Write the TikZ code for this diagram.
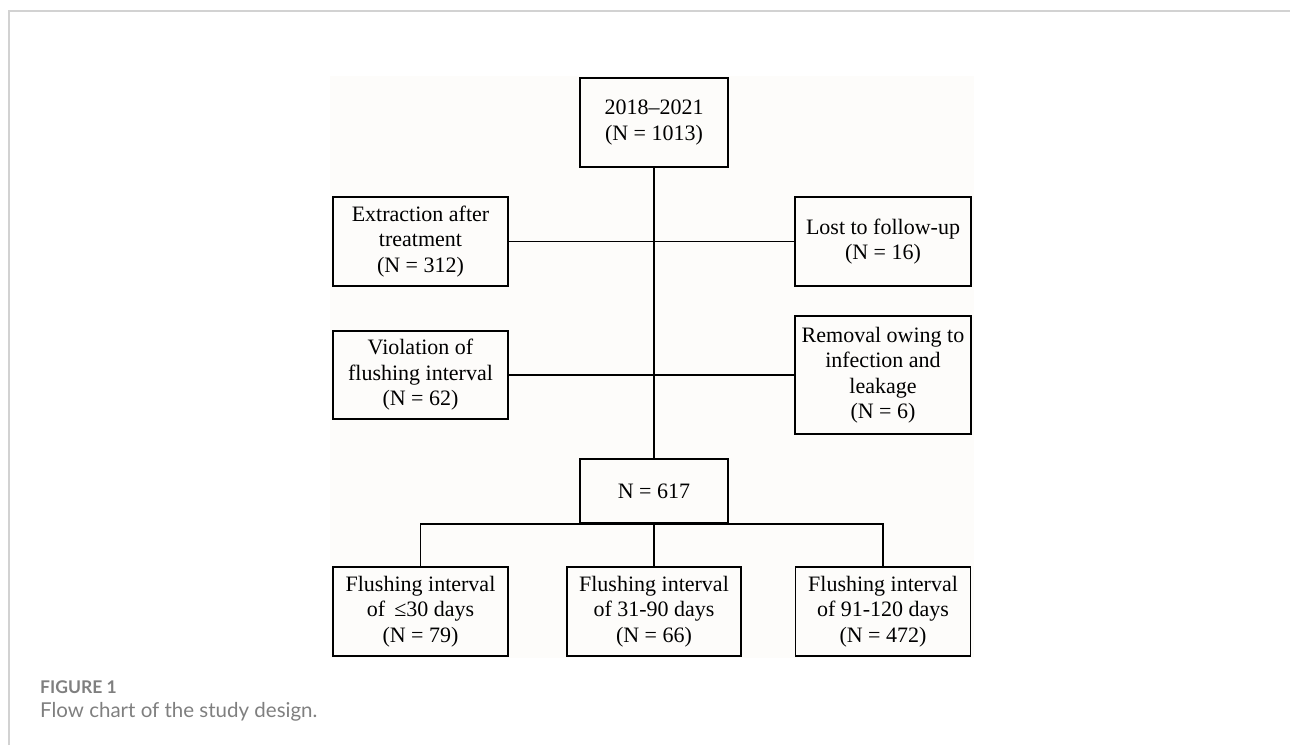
\documentclass[tikz,border=0pt]{standalone}
\usepackage{fontspec}
\setmainfont{Liberation Serif}
\newfontfamily\capfont{Lato}
\definecolor{paper}{HTML}{FDFCFA}
\definecolor{framegray}{HTML}{D2D2D2}
\definecolor{capgray}{HTML}{7F7F7F}

\begin{document}
\begin{tikzpicture}[x=1pt, y=-1pt,
    box/.style={draw, line width=1.8pt, align=center, inner sep=0pt,
        minimum width=175pt, minimum height=89pt,
        font=\fontsize{22}{25.5}\selectfont},
    link/.style={line width=1.8pt}]
    \useasboundingbox (0,0) rectangle (1290,745);

    % page frame and figure paper
    \draw[framegray, line width=1.6pt] (9,745) -- (9,11) -- (1290,11);
    \fill[paper] (330,76) rectangle (974,658);

    % cohort
    \node[box, minimum width=148pt] (cohort) at (654,122.5) {2018–2021\\(N = 1013)};

    % exclusions, left and right
    \node[box] (extract) at (420.5,241.5) {Extraction after\\treatment\\(N = 312)};
    \node[box, minimum width=176pt] (lost) at (883,241.5) {Lost to follow-up\\(N = 16)};
    \node[box, minimum height=88pt] (violate) at (420.5,375) {Violation of\\flushing interval\\(N = 62)};
    \node[box, minimum width=176pt, minimum height=118pt] (removal) at (883,375)
        {Removal owing to\\infection and\\leakage\\(N = 6)};

    % included
    \node[box, minimum width=148pt, minimum height=64pt] (included) at (654,491) {N = 617};

    % groups
    \node[box] (short) at (420.5,611.5) {Flushing interval\\of \,≤30 days\\(N = 79)};
    \node[box, minimum width=174pt] (middle) at (654,611.5) {Flushing interval\\of 31-90 days\\(N = 66)};
    \node[box] (long) at (883,611.5) {Flushing interval\\of 91-120 days\\(N = 472)};

    \draw[link] (cohort) -- (included);
    \draw[link] (extract) -- (lost);
    \draw[link] (violate) -- (removal);
    \draw[link] (short.north) |- (included.south) -| (long.north);
    \draw[link] (included.south) -- (middle.north);

    % caption
    \node[anchor=base west, inner sep=0pt, text=capgray, font=\capfont\bfseries\fontsize{17.5}{20}\selectfont]
        (capnum) at (40,693) {FIGURE 1};
    \node[anchor=base west, inner sep=0pt, text=capgray, font=\capfont\fontsize{20.5}{24}\selectfont]
        (captext) at (40,717) {Flow chart of the study design.};
\end{tikzpicture}
\end{document}
